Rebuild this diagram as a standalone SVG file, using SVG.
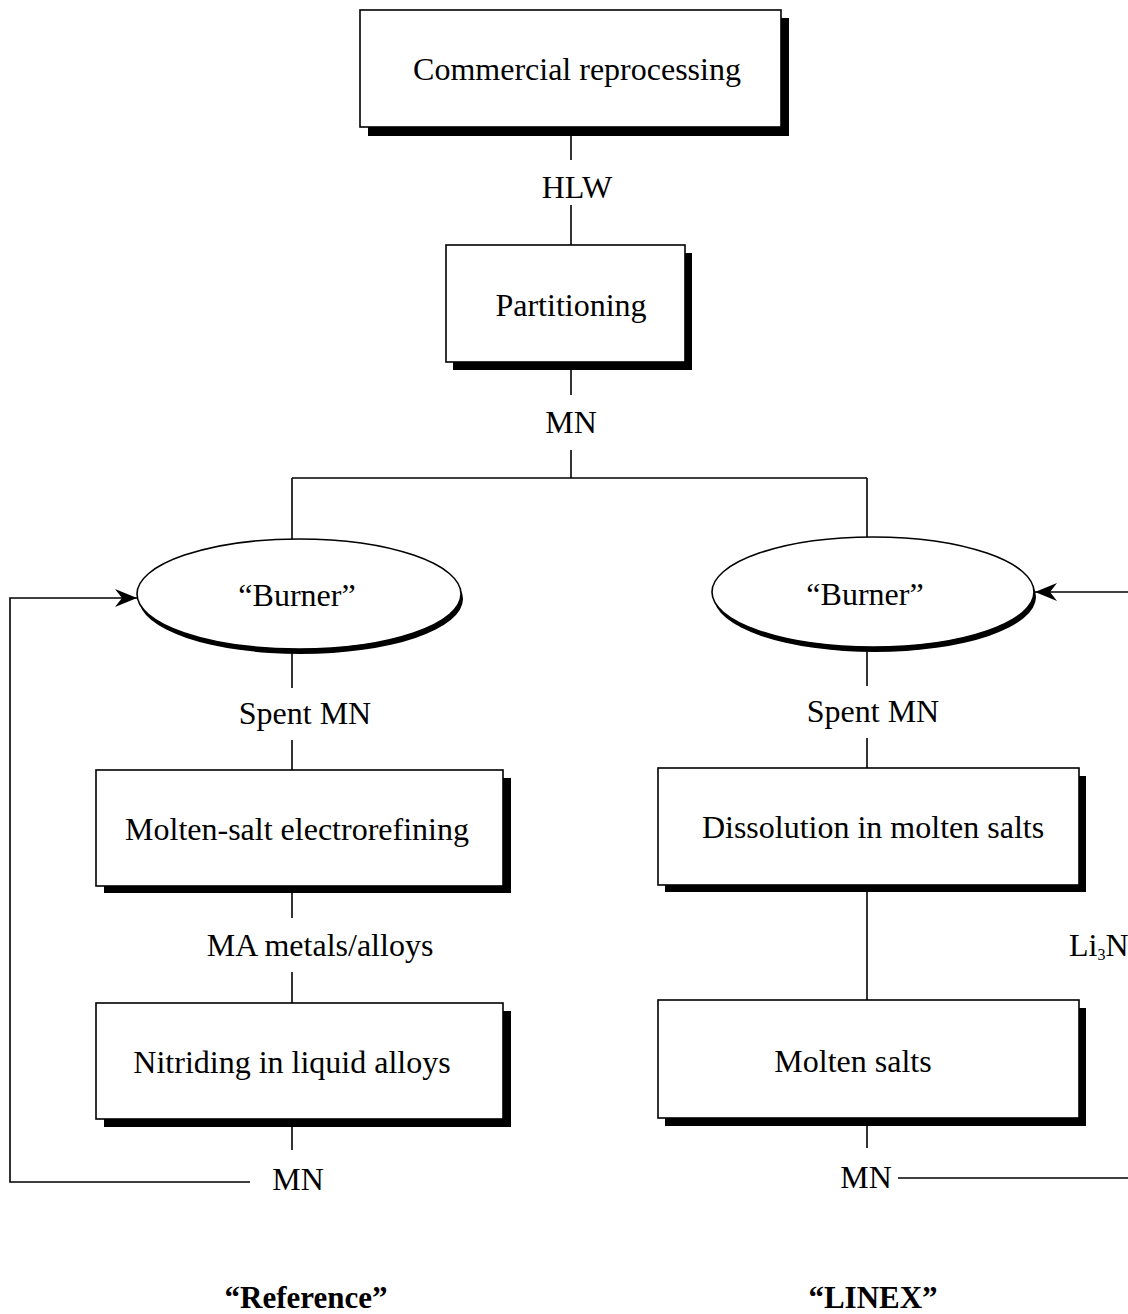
<svg xmlns="http://www.w3.org/2000/svg" width="1128" height="1314" viewBox="0 0 1128 1314">
<defs>
<style>
.box{fill:#fff;stroke:#000;stroke-width:1.6}
.sh{fill:#000}
.t{font-family:"Liberation Serif","Times New Roman",serif;font-size:32px;fill:#000;text-anchor:middle}
.b{font-family:"Liberation Serif","Times New Roman",serif;font-size:31px;font-weight:bold;fill:#000;text-anchor:middle}
.ln{stroke:#000;stroke-width:1.6;fill:none}
</style>
<marker id="ah" markerWidth="24" markerHeight="20" refX="22" refY="10" orient="auto" markerUnits="userSpaceOnUse">
<path d="M0,1 L22,10 L0,19 L7,10 z" fill="#000"/>
</marker>
</defs>
<rect width="1128" height="1314" fill="#fff"/>
<g id="connectors">
<path class="ln" d="M571,127 V160"/>
<path class="ln" d="M571,205 V245"/>
<path class="ln" d="M571,370 V395"/>
<path class="ln" d="M571,450 V478"/>
<path class="ln" d="M292,478 H867"/>
<path class="ln" d="M292,478 V540"/>
<path class="ln" d="M867,478 V537"/>
<path class="ln" d="M292,652 V688"/>
<path class="ln" d="M292,740 V770"/>
<path class="ln" d="M292,893 V918"/>
<path class="ln" d="M292,972 V1003"/>
<path class="ln" d="M292,1127 V1150"/>
<path class="ln" d="M250,1182 H10 V598 H137" marker-end="url(#ah)"/>
<path class="ln" d="M867,650 V686"/>
<path class="ln" d="M867,738 V768"/>
<path class="ln" d="M867,892 V1000"/>
<path class="ln" d="M867,1126 V1148"/>
<path class="ln" d="M898,1178 H1128"/>
<path class="ln" d="M1128,592 H1035" marker-end="url(#ah)"/>
</g>
<g id="n-commercial">
<rect class="sh" x="368" y="18" width="421" height="118"/>
<rect class="box" x="360" y="10" width="421" height="117"/>
<text class="t" x="577" y="80">Commercial reprocessing</text>
</g>
<g id="l-hlw"><text class="t" x="577" y="198">HLW</text></g>
<g id="n-partitioning">
<rect class="sh" x="453" y="253" width="239" height="117"/>
<rect class="box" x="446" y="245" width="239" height="117"/>
<text class="t" x="571" y="316">Partitioning</text>
</g>
<g id="l-mn-top"><text class="t" x="571" y="433">MN</text></g>
<g id="n-burner-left">
<ellipse class="sh" cx="301" cy="599" rx="162" ry="55"/>
<ellipse class="box" cx="299" cy="594" rx="162" ry="55"/>
<text class="t" x="297" y="606">“Burner”</text>
</g>
<g id="n-burner-right">
<ellipse class="sh" cx="875" cy="597" rx="161" ry="55"/>
<ellipse class="box" cx="873" cy="592" rx="161" ry="55"/>
<text class="t" x="865" y="605">“Burner”</text>
</g>
<g id="l-spent-left"><text class="t" x="305" y="724">Spent MN</text></g>
<g id="l-spent-right"><text class="t" x="873" y="722">Spent MN</text></g>
<g id="n-electrorefining">
<rect class="sh" x="104" y="778" width="407" height="115"/>
<rect class="box" x="96" y="770" width="407" height="116"/>
<text class="t" x="297" y="840">Molten-salt electrorefining</text>
</g>
<g id="l-ma"><text class="t" x="320" y="956">MA metals/alloys</text></g>
<g id="n-nitriding">
<rect class="sh" x="104" y="1011" width="407" height="116"/>
<rect class="box" x="96" y="1003" width="407" height="116"/>
<text class="t" x="292" y="1073">Nitriding in liquid alloys</text>
</g>
<g id="l-mn-left"><text class="t" x="298" y="1190">MN</text></g>
<g id="n-dissolution">
<rect class="sh" x="665" y="776" width="421" height="116"/>
<rect class="box" x="658" y="768" width="421" height="117"/>
<text class="t" x="873" y="838">Dissolution in molten salts</text>
</g>
<g id="l-li3n"><text class="t" x="1069" y="956" style="text-anchor:start">Li<tspan font-size="16" dy="4">3</tspan><tspan dy="-4">N</tspan></text></g>
<g id="n-molten">
<rect class="sh" x="665" y="1008" width="421" height="118"/>
<rect class="box" x="658" y="1000" width="421" height="118"/>
<text class="t" x="853" y="1072">Molten salts</text>
</g>
<g id="l-mn-right"><text class="t" x="866" y="1188">MN</text></g>
<g id="l-captions">
<text class="b" x="306" y="1308">“Reference”</text>
<text class="b" x="873" y="1308">“LINEX”</text>
</g>
</svg>
